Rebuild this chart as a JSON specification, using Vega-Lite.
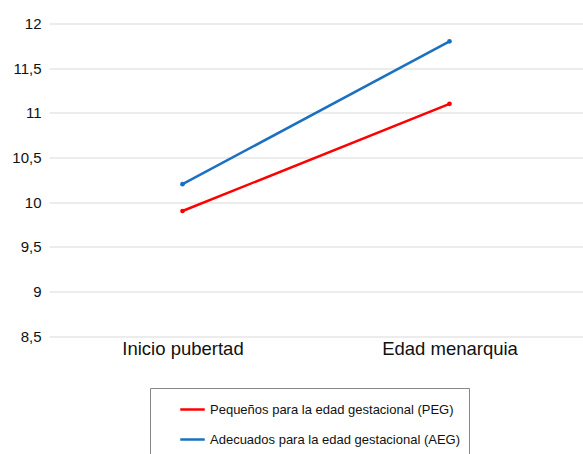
{
  "$schema": "https://vega.github.io/schema/vega-lite/v6.json",
  "width": 534,
  "height": 312.5,
  "autosize": {"type": "none"},
  "padding": {"left": 49, "top": 23.5, "right": 0, "bottom": 118},
  "background": "white",
  "config": {
    "font": "Liberation Sans",
    "view": {"stroke": null}
  },
  "data": {
    "values": [
      {"momento": "Inicio pubertad", "grupo": "Pequeños para la edad gestacional (PEG)", "edad": 9.9},
      {"momento": "Edad menarquia", "grupo": "Pequeños para la edad gestacional (PEG)", "edad": 11.1},
      {"momento": "Inicio pubertad", "grupo": "Adecuados para la edad gestacional (AEG)", "edad": 10.2},
      {"momento": "Edad menarquia", "grupo": "Adecuados para la edad gestacional (AEG)", "edad": 11.8}
    ]
  },
  "mark": {"type": "line", "strokeWidth": 2.5, "point": {"size": 22, "filled": true, "opacity": 1}},
  "encoding": {
    "x": {
      "field": "momento",
      "type": "nominal",
      "sort": ["Inicio pubertad", "Edad menarquia"],
      "scale": {"type": "point", "padding": 0.5},
      "axis": {
        "title": null,
        "domain": false,
        "ticks": false,
        "grid": false,
        "labelAngle": 0,
        "labelFontSize": 18.5,
        "labelColor": "#111",
        "labelPadding": 3
      }
    },
    "y": {
      "field": "edad",
      "type": "quantitative",
      "scale": {"domain": [8.5, 12], "nice": false, "zero": false},
      "axis": {
        "title": null,
        "values": [8.5, 9, 9.5, 10, 10.5, 11, 11.5, 12],
        "format": "~r",
        "labelExpr": "replace(datum.label, '.', ',')",
        "domain": false,
        "ticks": false,
        "gridColor": "#d9d9d9",
        "gridWidth": 1,
        "labelFontSize": 15,
        "labelColor": "#111",
        "labelPadding": 8
      }
    },
    "color": {
      "field": "grupo",
      "type": "nominal",
      "scale": {
        "domain": ["Pequeños para la edad gestacional (PEG)", "Adecuados para la edad gestacional (AEG)"],
        "range": ["#ff0000", "#1b70c0"]
      },
      "legend": {
        "title": null,
        "orient": "none",
        "legendX": 101,
        "legendY": 364.5,
        "direction": "vertical",
        "padding": 8,
        "strokeColor": "#888",
        "fillColor": "white",
        "labelFontSize": 13,
        "labelLimit": 400,
        "labelColor": "#111",
        "labelOffset": 4,
        "symbolOffset": 21,
        "symbolType": "stroke",
        "symbolSize": 600,
        "symbolStrokeWidth": 2.5,
        "rowPadding": 9
      }
    }
  }
}
